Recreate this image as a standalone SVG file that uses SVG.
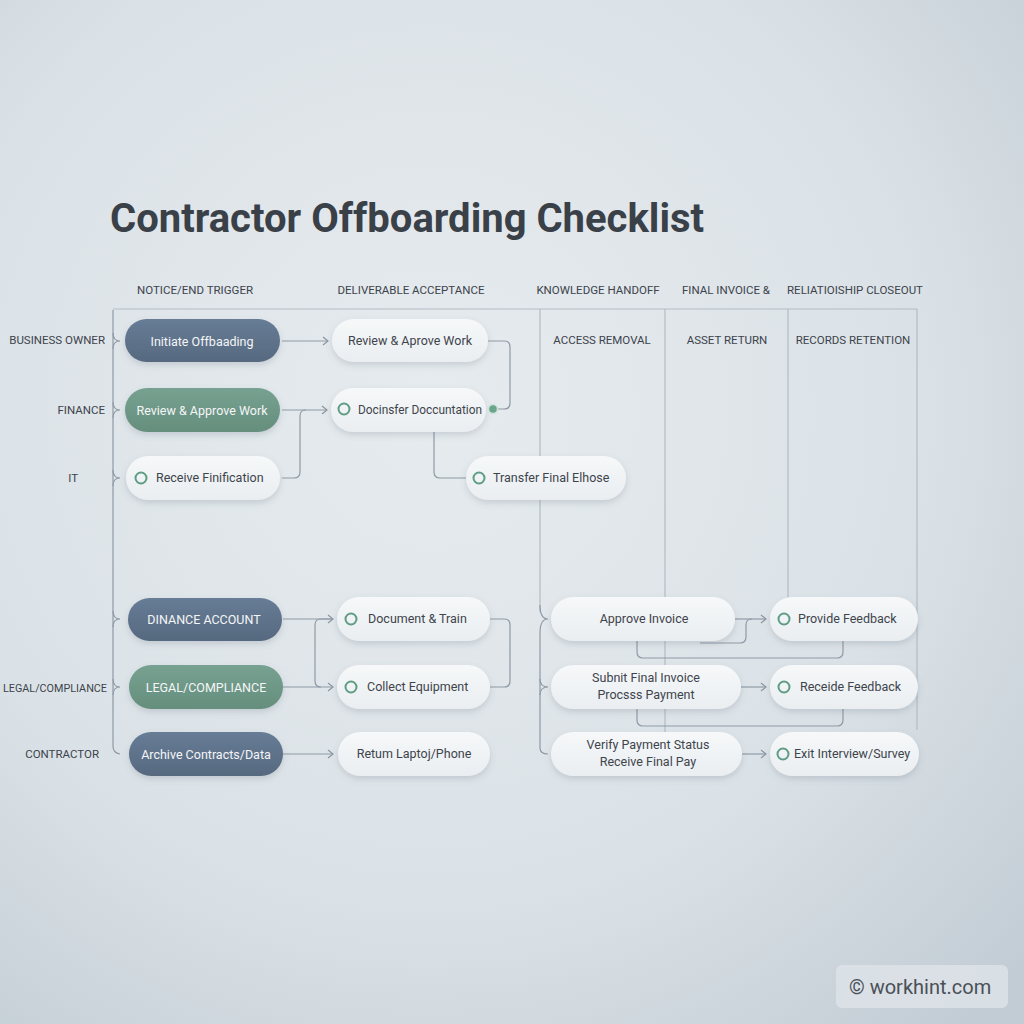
<svg xmlns="http://www.w3.org/2000/svg" width="1024" height="1024" viewBox="0 0 1024 1024">
<defs>
<radialGradient id="bg" cx="0.42" cy="0.4" r="0.8">
<stop offset="0" stop-color="#e6ebee"/>
<stop offset="0.6" stop-color="#dbe2e7"/>
<stop offset="1" stop-color="#c2ccd4"/>
</radialGradient>
<linearGradient id="white" x1="0" y1="0" x2="0" y2="1">
<stop offset="0" stop-color="#f6f8f9"/>
<stop offset="1" stop-color="#eaeef1"/>
</linearGradient>
<linearGradient id="slate" x1="0" y1="0" x2="0" y2="1">
<stop offset="0" stop-color="#677c96"/>
<stop offset="1" stop-color="#56697f"/>
</linearGradient>
<linearGradient id="green" x1="0" y1="0" x2="0" y2="1">
<stop offset="0" stop-color="#77a190"/>
<stop offset="1" stop-color="#658e7d"/>
</linearGradient>
<filter id="sh" x="-20%" y="-30%" width="140%" height="180%">
<feDropShadow dx="0" dy="3" stdDeviation="3" flood-color="#5a6878" flood-opacity="0.22"/>
</filter>
<marker id="arr" markerWidth="10" markerHeight="10" refX="7" refY="5" orient="auto" markerUnits="userSpaceOnUse">
<path d="M2,1 L7,5 L2,9" fill="none" stroke="#8a96a2" stroke-width="1.2"/>
</marker>
<style>
.title{font-family:Roboto,"Liberation Sans",sans-serif;font-weight:700;font-size:40px;fill:#3a4048}
.hdr{font-family:Roboto,"Liberation Sans",sans-serif;font-size:11.5px;fill:#3c434b;text-anchor:middle}
.lane{font-family:Roboto,"Liberation Sans",sans-serif;font-size:11.5px;fill:#3c434b;text-anchor:end}
.frame{fill:none;stroke:#b3bcc5;stroke-width:1.2}
.conn{fill:none;stroke:#8f9aa6;stroke-width:1.2}
.pw{fill:url(#white);filter:url(#sh)}
.ps{fill:url(#slate);filter:url(#sh)}
.pg{fill:url(#green);filter:url(#sh)}
.tw{font-family:Roboto,"Liberation Sans",sans-serif;font-size:12.5px;fill:#3e444c}
.td{font-family:Roboto,"Liberation Sans",sans-serif;font-size:12.5px;fill:#f4f6f8;text-anchor:middle}
.ic{fill:none;stroke:#5e9c83;stroke-width:2}
</style>
</defs>
<rect width="1024" height="1024" fill="url(#bg)"/>

<text class="title" x="110" y="232">Contractor Offboarding Checklist</text>

<g id="headers">
<text class="hdr" x="195" y="294">NOTICE/END TRIGGER</text>
<text class="hdr" x="411" y="294">DELIVERABLE ACCEPTANCE</text>
<text class="hdr" x="598" y="294">KNOWLEDGE HANDOFF</text>
<text class="hdr" x="726" y="294">FINAL INVOICE &amp;</text>
<text class="hdr" x="855" y="294">RELIATIOISHIP CLOSEOUT</text>
<text class="hdr" x="602" y="344">ACCESS REMOVAL</text>
<text class="hdr" x="727" y="344">ASSET RETURN</text>
<text class="hdr" x="853" y="344">RECORDS RETENTION</text>
</g>

<g id="lanes">
<text class="lane" x="105" y="344">BUSINESS OWNER</text>
<text class="lane" x="105" y="414">FINANCE</text>
<text class="lane" x="78" y="482">IT</text>
<text class="lane" x="3" y="692" style="text-anchor:start" textLength="104" lengthAdjust="spacingAndGlyphs">LEGAL/COMPLIANCE</text>
<text class="lane" x="99" y="758">CONTRACTOR</text>
</g>

<g id="frame">
<path class="frame" d="M113,309 H917"/>
<path class="frame" d="M540,309 V612"/>
<path class="frame" d="M665,309 V748"/>
<path class="frame" d="M788,309 V600"/>
<path class="frame" d="M917,309 V730"/>
</g>

<g id="connectors">
<path class="conn" d="M113,310 V746 Q113,753 120,754"/>
<path class="conn" d="M113,333 Q113,341 120,341 M113,349 Q113,341 120,341"/>
<path class="conn" d="M113,402 Q113,410 120,410 M113,418 Q113,410 120,410"/>
<path class="conn" d="M113,470 Q113,478 120,478 M113,486 Q113,478 120,478"/>
<path class="conn" d="M113,611 Q113,619 120,619 M113,627 Q113,619 120,619"/>
<path class="conn" d="M113,679 Q113,687 120,687 M113,695 Q113,687 120,687"/>
<path class="conn" d="M540,605 Q540,619 548,619 M540,633 Q540,619 548,619"/>
<path class="conn" d="M540,633 V748 Q540,754 548,754"/>
<path class="conn" d="M540,679 Q540,687 548,687 M540,695 Q540,687 548,687"/>

<path class="conn" d="M282,341 H328" marker-end="url(#arr)"/>
<path class="conn" d="M282,410 H327" marker-end="url(#arr)"/>
<path class="conn" d="M282,478 H294 Q300,478 300,472 V416 Q300,410 306,410"/>
<path class="conn" d="M488,341 H504 Q510,341 510,347 V403 Q510,409 504,409 H498"/>
<path class="conn" d="M434,432 V472 Q434,478 440,478 H466"/>

<path class="conn" d="M283,619 H333" marker-end="url(#arr)"/>
<path class="conn" d="M283,687 H333" marker-end="url(#arr)"/>
<path class="conn" d="M283,754 H333" marker-end="url(#arr)"/>
<path class="conn" d="M333,619 H321 Q315,619 315,625 V681 Q315,687 321,687"/>
<path class="conn" d="M490,619 H504 Q510,619 510,625 V681 Q510,687 504,687 H490"/>

<path class="conn" d="M735,619 H766" marker-end="url(#arr)"/>
<path class="conn" d="M700,643 H740 Q746,643 746,637 V625 Q746,619 752,619"/>
<path class="conn" d="M741,687 H766" marker-end="url(#arr)"/>
<path class="conn" d="M742,754 H766" marker-end="url(#arr)"/>
<path class="conn" d="M637,641 V652 Q637,658 643,658 H837 Q843,658 843,652 V641"/>
<path class="conn" d="M637,709 V720 Q637,726 643,726 H837 Q843,726 843,720 V709"/>
</g>

<g id="n-initiate"><rect class="ps" x="125" y="319" width="155" height="43" rx="21.5"/><text class="td" x="202" y="346">Initiate Offbaading</text></g>
<g id="n-review-green"><rect class="pg" x="125" y="388" width="155" height="44" rx="22"/><text class="td" x="202" y="415">Review &amp; Approve Work</text></g>
<g id="n-receive"><rect class="pw" x="126" y="456" width="154" height="44" rx="22"/><circle class="ic" cx="141" cy="478" r="5.5"/><text class="tw" x="156" y="482">Receive Finification</text></g>

<g id="n-review-white"><rect class="pw" x="332" y="319" width="156" height="43" rx="21.5"/><text class="tw" x="410" y="345" text-anchor="middle">Review &amp; Aprove Work</text></g>
<g id="n-docinsfer"><rect class="pw" x="331" y="388" width="155" height="44" rx="22"/><circle class="ic" cx="344" cy="409" r="5.5"/><text class="tw" x="358" y="414" textLength="124" lengthAdjust="spacingAndGlyphs">Docinsfer Doccuntation</text><circle cx="493" cy="409" r="4.5" fill="#6aa58d" stroke="#cfe3da" stroke-width="1.5"/></g>
<g id="n-transfer"><rect class="pw" x="466" y="456" width="160" height="44" rx="22"/><circle class="ic" cx="479" cy="478" r="5.5"/><text class="tw" x="493" y="482">Transfer Final Elhose</text></g>

<g id="n-dinance"><rect class="ps" x="128" y="598" width="154" height="43" rx="21.5"/><text class="td" x="204" y="624">DINANCE ACCOUNT</text></g>
<g id="n-legal"><rect class="pg" x="129" y="665" width="154" height="44" rx="22"/><text class="td" x="206" y="692">LEGAL/COMPLIANCE</text></g>
<g id="n-archive"><rect class="ps" x="129" y="732" width="154" height="44" rx="22"/><text class="td" x="206" y="759">Archive Contracts/Data</text></g>

<g id="n-document"><rect class="pw" x="337" y="597" width="153" height="44" rx="22"/><circle class="ic" cx="351" cy="619" r="5.5"/><text class="tw" x="368" y="623">Document &amp; Train</text></g>
<g id="n-collect"><rect class="pw" x="337" y="665" width="153" height="44" rx="22"/><circle class="ic" cx="351" cy="687" r="5.5"/><text class="tw" x="367" y="691">Collect Equipment</text></g>
<g id="n-return"><rect class="pw" x="338" y="732" width="152" height="44" rx="22"/><text class="tw" x="414" y="758" text-anchor="middle">Retum Laptoj/Phone</text></g>

<g id="n-approve"><rect class="pw" x="551" y="597" width="184" height="44" rx="22"/><text class="tw" x="644" y="623" text-anchor="middle">Approve Invoice</text></g>
<g id="n-submit"><rect class="pw" x="551" y="665" width="190" height="44" rx="22"/><text class="tw" x="646" y="682" text-anchor="middle">Subnit Final Invoice</text><text class="tw" x="646" y="699" text-anchor="middle">Procsss Payment</text></g>
<g id="n-verify"><rect class="pw" x="551" y="732" width="191" height="44" rx="22"/><text class="tw" x="648" y="749" text-anchor="middle">Verify Payment Status</text><text class="tw" x="648" y="766" text-anchor="middle">Receive Final Pay</text></g>

<g id="n-provide"><rect class="pw" x="770" y="597" width="148" height="44" rx="22"/><circle class="ic" cx="784" cy="619" r="5.5"/><text class="tw" x="798" y="623">Provide Feedback</text></g>
<g id="n-receide"><rect class="pw" x="770" y="665" width="148" height="44" rx="22"/><circle class="ic" cx="784" cy="687" r="5.5"/><text class="tw" x="800" y="691">Receide Feedback</text></g>
<g id="n-exit"><rect class="pw" x="770" y="732" width="149" height="44" rx="22"/><circle class="ic" cx="783" cy="754" r="5.5"/><text class="tw" x="794" y="758">Exit Interview/Survey</text></g>

<g id="watermark">
<rect x="836" y="965" width="172" height="43" rx="6" fill="#dde3e8" fill-opacity="0.85"/>
<text x="849" y="994" font-family="Roboto,'Liberation Sans',sans-serif" font-size="20" fill="#4a5058">© workhint.com</text>
</g>
</svg>
